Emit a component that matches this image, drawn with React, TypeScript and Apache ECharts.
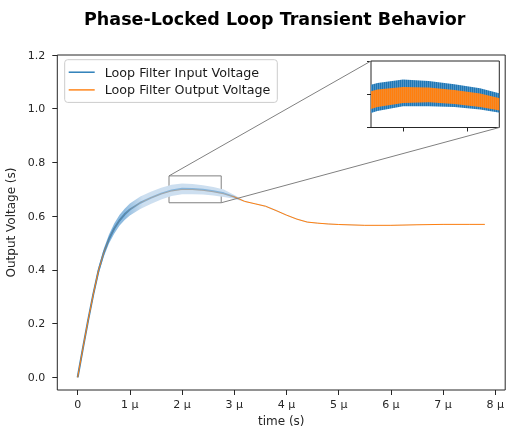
import React, { useEffect, useRef } from 'react';
import * as echarts from 'echarts';

// time in microseconds
const tUs = [0, 0.1, 0.2, 0.3, 0.4, 0.5, 0.6, 0.7, 0.8, 0.9, 1.0, 1.2, 1.4, 1.6, 1.8, 2.0, 2.2, 2.4, 2.6, 2.8, 3.0, 3.2, 3.4, 3.6, 3.8, 4.0, 4.2, 4.4, 4.6, 4.8, 5.0, 5.5, 6.0, 6.5, 7.0, 7.5, 7.8];
// Loop filter output voltage (centre of its ripple)
const outputV = [0.000, 0.108, 0.212, 0.310, 0.398, 0.464, 0.515, 0.554, 0.584, 0.607, 0.625, 0.650, 0.668, 0.683, 0.694, 0.699, 0.699, 0.696, 0.691, 0.683, 0.672, 0.655, 0.646, 0.637, 0.621, 0.604, 0.589, 0.578, 0.574, 0.571, 0.569, 0.566, 0.566, 0.568, 0.5695, 0.5695, 0.5695];
// half height of the output ripple
const outputSpread = [0, 0.003, 0.005, 0.007, 0.009, 0.011, 0.012, 0.013, 0.014, 0.014, 0.014, 0.014, 0.014, 0.014, 0.013, 0.012, 0.011, 0.0105, 0.010, 0.009, 0.004, 0.001, 0.001, 0.001, 0.001, 0.001, 0.001, 0.001, 0.001, 0.001, 0.001, 0.001, 0.001, 0.001, 0.001, 0.001, 0.001];
// Loop filter input voltage (centre of its ripple)
const inputMid = [0.000, 0.108, 0.212, 0.310, 0.398, 0.464, 0.515, 0.554, 0.584, 0.607, 0.625, 0.650, 0.668, 0.684, 0.696, 0.702, 0.701, 0.698, 0.693, 0.685, 0.672, 0.655, 0.646, 0.637, 0.621, 0.604, 0.589, 0.578, 0.574, 0.571, 0.569, 0.566, 0.566, 0.568, 0.5695, 0.5695, 0.5695];
// half height of the input ripple
const inputSpread = [0, 0.004, 0.007, 0.010, 0.013, 0.015, 0.017, 0.019, 0.020, 0.021, 0.022, 0.023, 0.023, 0.022, 0.021, 0.020, 0.019, 0.017, 0.016, 0.014, 0.007, 0.002, 0.002, 0.0025, 0.0025, 0.002, 0.002, 0.002, 0.0015, 0.0015, 0.0015, 0.0015, 0.0015, 0.001, 0.001, 0.001, 0.001];

const xTicks = [0, 1, 2, 3, 4, 5, 6, 7, 8];
const yTicks = [0, 0.2, 0.4, 0.6, 0.8, 1.0, 1.2];
const insetXTicks = [2, 2.5];
const insetYTicks = [0.65, 0.7, 0.75];
const zoomX = [1.75, 2.75];
const zoomY = [0.65, 0.75];

const BLUE = '#1f77b4';
const ORANGE = '#ff7f0e';
const INK = '#262626';
const FONT = 'DejaVu Sans';

function stripePattern(a: string, b: string): any {
  try {
    const c = document.createElement('canvas');
    c.width = 2;
    c.height = 2;
    const ctx = c.getContext('2d');
    if (!ctx) return a;
    ctx.fillStyle = a;
    ctx.fillRect(0, 0, 2, 2);
    ctx.fillStyle = b;
    ctx.fillRect(1, 0, 1, 2);
    return { image: c, repeat: 'repeat' };
  } catch (e) {
    return a;
  }
}

export default function App() {
  const ref = useRef<HTMLDivElement>(null);

  useEffect(() => {
    const chart = echarts.init(ref.current!, null, { renderer: 'svg' });

    const pts = (ys: number[]) => tUs.map((t, i) => [t, ys[i]]);
    const inLow = inputMid.map((v, i) => v - inputSpread[i]);
    const inHigh = inputMid.map((v, i) => v + inputSpread[i]);
    const outLow = outputV.map((v, i) => v - outputSpread[i]);
    const outHigh = outputV.map((v, i) => v + outputSpread[i]);
    const span = tUs[tUs.length - 1] - tUs[0];
    const off = (t: number) => (t - tUs[0]) / span;

    const orangeGrad = new echarts.graphic.LinearGradient(0, 0, 1, 0, [
      { offset: 0, color: ORANGE },
      { offset: off(0.4), color: ORANGE },
      { offset: off(0.6), color: 'rgba(255,127,14,0.25)' },
      { offset: off(2.9), color: 'rgba(255,127,14,0.25)' },
      { offset: off(3.05), color: ORANGE },
      { offset: 1, color: ORANGE },
    ]);
    const blueLineGrad = new echarts.graphic.LinearGradient(0, 0, 1, 0, [
      { offset: 0, color: '#2f80bd' },
      { offset: off(0.9), color: '#3f8ac4' },
      { offset: off(1.3), color: '#86b5dc' },
      { offset: off(3.0), color: '#86b5dc' },
      { offset: off(3.12), color: 'rgba(138,184,221,0)' },
      { offset: 1, color: 'rgba(138,184,221,0)' },
    ]);
    const bandGrad = new echarts.graphic.LinearGradient(0, 0, 1, 0, [
      { offset: 0, color: '#7aaed7' },
      { offset: off(0.9), color: '#8fbbdf' },
      { offset: off(1.25), color: '#cddff0' },
      { offset: 1, color: '#cddff0' },
    ]);

    // band between low/high drawn through the axes' scales
    const bandSeries = (name: string, gi: number, low: number[], high: number[], fill: any, z: number) => ({
      name,
      type: 'custom',
      xAxisIndex: gi,
      yAxisIndex: gi,
      silent: true,
      z,
      data: tUs.map((t, i) => [t, low[i], high[i]]),
      encode: { x: 0, y: [1, 2] },
      renderItem: (params: any, api: any) => {
        if (params.dataIndex !== 0) return null;
        const top = tUs.map((t, i) => api.coord([t, high[i]]));
        const bottom = tUs.map((t, i) => api.coord([t, low[i]])).reverse();
        const cs = params.coordSys;
        return {
          type: 'polygon',
          shape: { points: top.concat(bottom) },
          style: { fill, stroke: 'none' },
          clipPath: { type: 'rect', shape: { x: cs.x, y: cs.y, width: cs.width, height: cs.height } },
        };
      },
    });

    const axisText = { fontFamily: FONT, fontSize: 11, color: INK };

    chart.setOption({
      animation: false,
      textStyle: { fontFamily: FONT },
      graphic: [
        {
          id: 'title',
          type: 'text',
          x: 274.7,
          y: 19,
          style: {
            text: 'Phase-Locked Loop Transient Behavior',
            fontFamily: FONT,
            fontSize: 17.5,
            fontWeight: 'bold',
            fill: '#000',
            align: 'center',
            verticalAlign: 'middle',
          },
        },
      ],
      legend: {
        orient: 'vertical',
        left: 64.7,
        top: 59.7,
        data: [
          { name: 'Loop Filter Input Voltage', itemStyle: { color: BLUE, borderWidth: 0 } },
          { name: 'Loop Filter Output Voltage', itemStyle: { color: ORANGE, borderWidth: 0 } },
        ],
        icon: 'rect',
        itemWidth: 26,
        itemHeight: 1.4,
        itemGap: 3.7,
        padding: [5.5, 7, 5.5, 4],
        borderColor: '#cccccc',
        borderWidth: 1,
        borderRadius: 3,
        backgroundColor: 'rgba(255,255,255,0.8)',
        selectedMode: false,
        textStyle: { fontFamily: FONT, fontSize: 12.7, color: '#1a1a1a', lineHeight: 14, padding: [0, 0, 0, 5] },
      },
      grid: [
        { left: 57.3, top: 55, width: 447.9, height: 335, show: true, borderColor: INK, borderWidth: 1, backgroundColor: 'transparent', outerBoundsMode: 'none', containLabel: false },
        { left: 371, top: 61, width: 128.3, height: 66.5, show: true, borderColor: INK, borderWidth: 1, backgroundColor: '#ffffff', z: 3, outerBoundsMode: 'none', containLabel: false },
      ],
      xAxis: [
        {
          type: 'value',
          gridIndex: 0,
          min: -0.39,
          max: 8.19,
          axisLine: { show: false, onZero: false },
          axisTick: { show: true, length: 5, customValues: xTicks, lineStyle: { color: INK } },
          axisLabel: {
            ...axisText,
            margin: 9,
            customValues: xTicks,
            formatter: (v: number) => (v === 0 ? '0' : `${v} \u00b5`),
          },
          splitLine: { show: false },
          name: 'time (s)',
          nameLocation: 'middle',
          nameGap: 25,
          nameTextStyle: { fontFamily: FONT, fontSize: 12, color: INK },
        },
        {
          type: 'value',
          gridIndex: 1,
          min: zoomX[0],
          max: zoomX[1],
          axisLine: { show: false, onZero: false },
          axisTick: { show: true, length: 4, customValues: insetXTicks, lineStyle: { color: INK } },
          axisLabel: { show: false },
          splitLine: { show: false },
        },
      ],
      yAxis: [
        {
          type: 'value',
          gridIndex: 0,
          min: -0.047,
          max: 1.2,
          axisLine: { show: false, onZero: false },
          axisTick: { show: true, length: 5, customValues: yTicks, lineStyle: { color: INK } },
          axisLabel: { ...axisText, margin: 12, customValues: yTicks, formatter: (v: number) => v.toFixed(1) },
          splitLine: { show: false },
          name: 'Output Voltage (s)',
          nameLocation: 'middle',
          nameGap: 30,
          nameTextStyle: { fontFamily: FONT, fontSize: 12, color: INK },
        },
        {
          type: 'value',
          gridIndex: 1,
          min: zoomY[0],
          max: zoomY[1],
          axisLine: { show: false, onZero: false },
          axisTick: { show: true, length: 4, customValues: insetYTicks, lineStyle: { color: INK } },
          axisLabel: { show: false },
          splitLine: { show: false },
        },
      ],
      series: [
        bandSeries('inBandMain', 0, inLow, inHigh, bandGrad, 2),
        {
          name: 'Loop Filter Input Voltage', type: 'line', xAxisIndex: 0, yAxisIndex: 0,
          data: pts(inputMid), showSymbol: false, symbol: 'none', color: BLUE,
          lineStyle: { color: blueLineGrad, width: 2 }, silent: true, z: 3,
        },
        {
          name: 'Loop Filter Output Voltage', type: 'line', xAxisIndex: 0, yAxisIndex: 0,
          data: pts(outputV), showSymbol: false, symbol: 'none', color: ORANGE,
          lineStyle: { color: orangeGrad, width: 1 }, silent: true, z: 4,
          markArea: {
            silent: true,
            itemStyle: { color: 'rgba(0,0,0,0)', borderColor: '#808080', borderWidth: 1 },
            data: [[{ coord: [zoomX[0], zoomY[1]] }, { coord: [zoomX[1], zoomY[0]] }]],
          },
        },
        bandSeries('inBandInset', 1, inLow, inHigh, stripePattern(BLUE, '#4f94c8'), 5),
        bandSeries('outBandInset', 1, outLow, outHigh, stripePattern(ORANGE, '#f48a2c'), 6),
      ],
    });

    const p = (g: number, v: number[]) => chart.convertToPixel({ gridIndex: g } as any, v) as number[];
    const a1 = p(0, [zoomX[0], zoomY[1]]);
    const b1 = p(1, [zoomX[0], zoomY[1]]);
    const a2 = p(0, [zoomX[1], zoomY[0]]);
    const b2 = p(1, [zoomX[1], zoomY[0]]);
    chart.setOption({
      graphic: [
        { id: 'c1', type: 'line', shape: { x1: a1[0], y1: a1[1], x2: b1[0], y2: b1[1] }, style: { stroke: '#808080', lineWidth: 1 }, z: 10, silent: true },
        { id: 'c2', type: 'line', shape: { x1: a2[0], y1: a2[1], x2: b2[0], y2: b2[1] }, style: { stroke: '#808080', lineWidth: 1 }, z: 10, silent: true },
      ],
    });

    return () => chart.dispose();
  }, []);

  return <div ref={ref} style={{ position: 'fixed', left: 0, top: 0, width: 508, height: 428 }} />;
}
